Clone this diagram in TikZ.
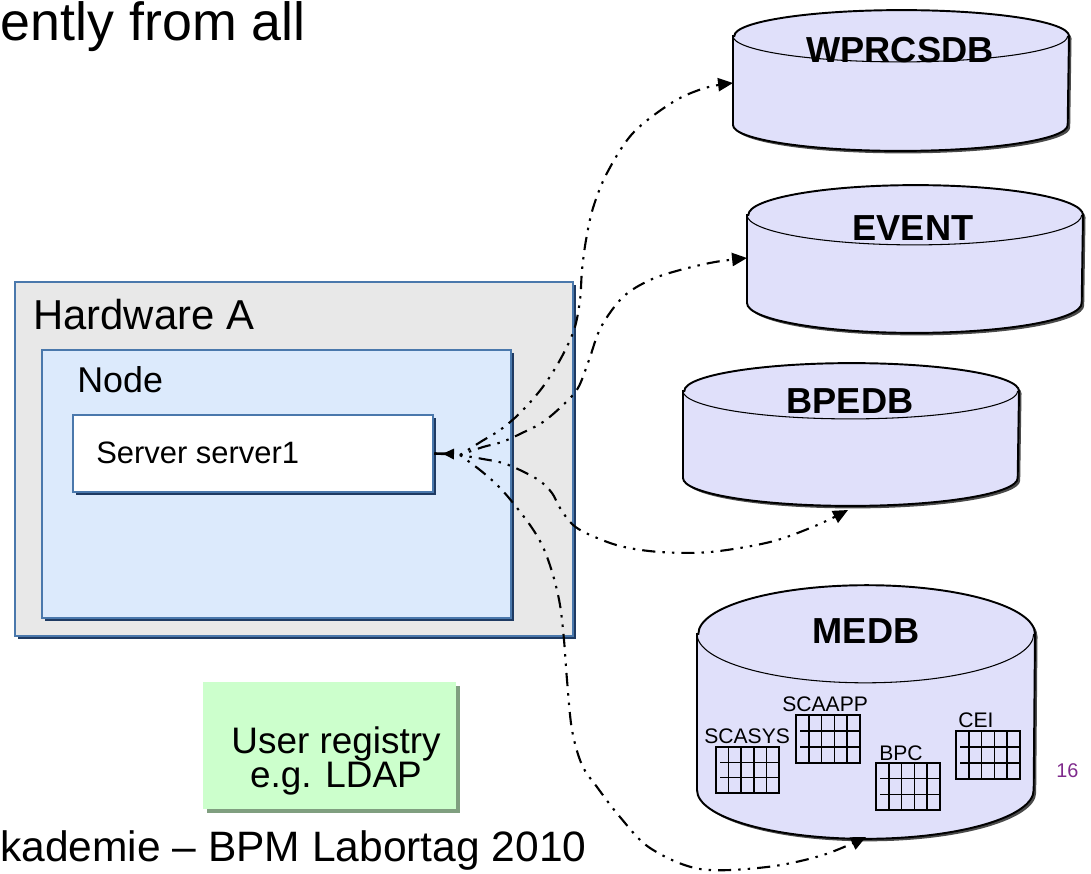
\documentclass[tikz,border=0pt]{standalone}
\usepackage{fontspec}
\setmainfont{Liberation Sans}
\usetikzlibrary{arrows.meta,shadows,fit}

\definecolor{hwfill}{HTML}{E8E8E8}
\definecolor{nodefill}{HTML}{DCEAFC}
\definecolor{frameblue}{HTML}{4A78AC}
\definecolor{framedark}{HTML}{1E3A62}
\definecolor{dbfill}{HTML}{E0E0FA}
\definecolor{dbshade}{HTML}{4A4A4A}
\definecolor{regfill}{HTML}{CCFFCC}
\definecolor{regshade}{HTML}{809F80}
\definecolor{pagenum}{HTML}{7F2A8C}

\tikzset{
  px/.style={x=0.02cm,y=-0.02cm},
  hwframe/.style={draw=frameblue, line width=1.4pt, inner sep=0pt,
    drop shadow={shadow xshift=0.055cm, shadow yshift=-0.055cm, opacity=1, fill=framedark}},
  regbox/.style={fill=regfill, inner sep=0pt,
    drop shadow={shadow xshift=0.07cm, shadow yshift=-0.07cm, opacity=1, fill=regshade}},
  lbl/.style={anchor=base west, inner sep=0pt},
  dblabel/.style={anchor=base, inner sep=0pt, font=\fontsize{20.6}{24}\selectfont\bfseries},
  tbllabel/.style={anchor=base west, inner sep=0pt, font=\fontsize{12}{14}\selectfont},
  dbbody/.style={fill=dbfill, draw=black, line width=1.1pt},
  dbtop/.style={draw=black, line width=0.6pt},
  dbshadow/.style={fill=dbshade},
  gridline/.style={draw=black, line width=0.85pt},
  flow/.style={line width=1.2pt,
    dash pattern=on 1.4pt off 4pt on 1.4pt off 4pt on 7.5pt off 4pt,
    -{Triangle[length=8.5pt,width=7.5pt]}},
  tailline/.style={line width=1.5pt, -{Triangle[reversed,length=6.5pt,width=5.8pt]}},
}

% database cylinder: left x, right x, centre y of top face, y radius, side height
\newcommand\dbcyl[5]{%
  \pgfmathsetmacro\crx{(#2-#1)/2*0.56693}%
  \pgfmathsetmacro\cry{#4*0.56693}%
  \begin{scope}[shift={(2.5,2.5)}]
    \fill[dbshadow] (#1,#3) -- (#1,#3+#5)
      arc[start angle=180,end angle=360,x radius=\crx pt,y radius=\cry pt]
      -- (#2,#3) arc[start angle=0,end angle=180,x radius=\crx pt,y radius=\cry pt] -- cycle;
  \end{scope}
  \filldraw[dbbody] (#1,#3) -- (#1,#3+#5)
    arc[start angle=180,end angle=360,x radius=\crx pt,y radius=\cry pt]
    -- (#2,#3) arc[start angle=0,end angle=180,x radius=\crx pt,y radius=\cry pt] -- cycle;
  \draw[dbtop] (#1,#3) arc[start angle=180,end angle=360,x radius=\crx pt,y radius=\cry pt];
}

% table icon: 5 columns x 3 rows
\newcommand\dbgrid[4]{%
  \draw[gridline] (#1,#2) rectangle (#3,#4);
  \foreach \i in {1,...,4}
    \draw[gridline] ({#1+\i*(#3-#1)/5},#2) -- ({#1+\i*(#3-#1)/5},#4);
  \foreach \j in {1,2}
    \draw[gridline] ({#1+4},{#2+\j*(#4-#2)/3}) -- (#3,{#2+\j*(#4-#2)/3});
}

\begin{document}
\begin{tikzpicture}[px]
\useasboundingbox (0,0) rectangle (1091,873);
\clip (0,0) rectangle (1091,873);

% heading and footer fragments
\node[anchor=base east, inner sep=0pt, font=\fontsize{30.6}{36}\selectfont] (heading) at (306,40) {ently from all};
\node[lbl, font=\fontsize{24.2}{28}\selectfont] (footer) at (0,861) {kademie – BPM Labortag 2010};

% hardware / node / server
\node[hwframe, fill=hwfill, fit={(15,282) (573,636)}] (hw) {};
\node[hwframe, fill=nodefill, fit={(42,350) (511,618)}] (nd) {};
\node[hwframe, fill=white, fit={(73,415) (433,492)}] (srv) {};
\node[lbl, font=\fontsize{23.8}{28}\selectfont] (hwlabel) at (33,329) {Hardware A};
\node[lbl, font=\fontsize{20.4}{24}\selectfont] (ndlabel) at (77,392) {Node};
\node[lbl, font=\fontsize{17.6}{21}\selectfont] (srvlabel) at (96,463) {Server server1};

% user registry
\node[regbox, fit={(203,682) (456,809)}] (reg) {};
\node[anchor=base, inner sep=0pt, font=\fontsize{21}{25}\selectfont] (regline1) at (336,753) {User registry};
\node[anchor=base, inner sep=0pt, font=\fontsize{21}{25}\selectfont] (regline2) at (336,787) {e.g. LDAP};

% databases
\dbcyl{733}{1069}{36}{26}{89}
\node[dblabel] (wprcsdb) at (900,62) {WPRCSDB};
\dbcyl{747}{1083}{215}{30}{88}
\node[dblabel] (event) at (913,240) {EVENT};
\dbcyl{683}{1019}{391}{28}{87}
\node[dblabel] (bpedb) at (850,413) {BPEDB};
\dbcyl{697}{1035}{634}{49}{156}
\node[dblabel] (medb) at (866,643) {MEDB};

% tables inside MEDB
\dbgrid{716}{747}{779}{793}
\dbgrid{796}{715}{860}{763}
\dbgrid{876}{763}{940}{810}
\dbgrid{956}{731}{1020}{779}
\node[tbllabel] (scasys) at (704,743) {SCASYS};
\node[tbllabel] (scaapp) at (782,711) {SCAAPP};
\node[tbllabel] (bpc) at (879,760) {BPC};
\node[tbllabel] (cei) at (958,727) {CEI};

% page number
\node[lbl, text=pagenum, font=\fontsize{11.3}{13}\selectfont] (pgno) at (1056,777) {16};

% connections
\coordinate (tail) at (454,454);
\coordinate (fan) at (460,455);
\coordinate (wp-in) at (733,83);
\coordinate (ev-in) at (747,258);
\coordinate (bp-in) at (848,510);
\coordinate (me-in) at (866,837);

\draw[tailline] (srv.east) -- (tail);
\draw[flow] plot[smooth, tension=0.55] coordinates {(fan) (482,441) (500,430) (520,413) (542,388) (560,360) (574,330) (580,300) (582,270) (586,240) (593,208) (607,173) (633,133) (673,102) (705,88) (wp-in)};
\draw[flow] plot[smooth, tension=0.55] coordinates {(fan) (483,447) (502,442) (522,433) (543,422) (563,405) (578,388) (589,360) (601,327) (623,297) (650,280) (680,270) (715,262) (ev-in)};
\draw[flow] plot[smooth, tension=0.55] coordinates {(fan) (483,459) (503,463) (522,471) (540,481) (552,493) (560,508) (572,524) (588,534) (620,546) (660,552) (710,552) (770,542) (815,526) (bp-in)};
\draw[flow] plot[smooth, tension=0.55] coordinates {(fan) (480,470) (495,483) (509,498) (530,525) (543,547) (553,575) (560,605) (564,640) (567,680) (572,730) (582,765) (597,787) (620,817) (650,848) (700,869) (767,867) (823,855) (me-in)};
\end{tikzpicture}
\end{document}
